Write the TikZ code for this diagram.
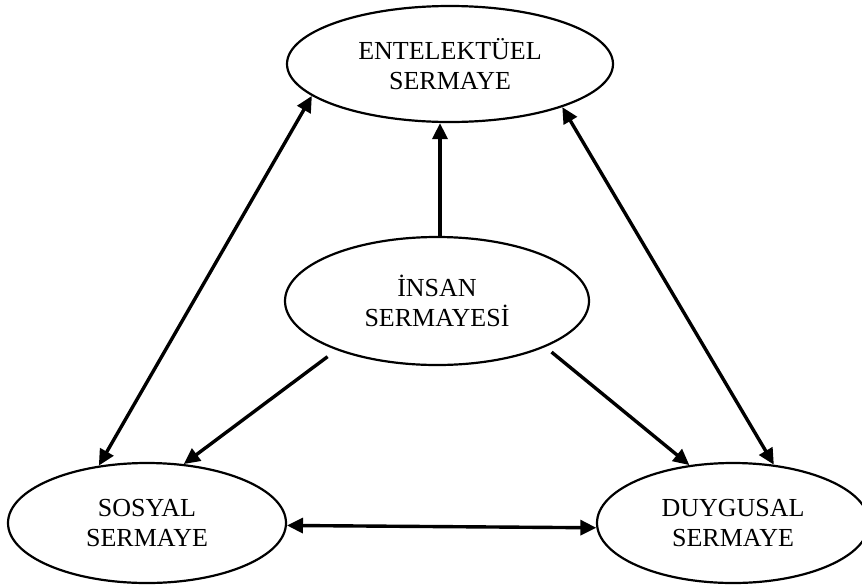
\documentclass[tikz,border=0pt]{standalone}
\usepackage{fontspec}
\setmainfont{Liberation Serif}
\usetikzlibrary{shapes.geometric,arrows.meta}

\tikzset{
  capital/.style={ellipse, draw, line width=2.2pt, inner sep=0pt,
    align=center, font=\fontsize{26}{30.5}\selectfont},
  link/.style={line width=3.4pt, -{Triangle[length=16pt,width=15pt]}},
  twoway/.style={line width=3.4pt, {Triangle[length=16pt,width=15pt]}-{Triangle[length=16pt,width=15pt]}}
}

\begin{document}
\begin{tikzpicture}[x=1pt, y=-1pt]
  \useasboundingbox (0,0) rectangle (862,587);

  % the four kinds of capital
  \node[capital, minimum width=326pt, minimum height=116pt] (ent) at (450,64)
    {ENTELEKTÜEL\\SERMAYE};
  \node[capital, minimum width=304pt, minimum height=128pt] (ins) at (437,301)
    {İNSAN\\SERMAYESİ};
  \node[capital, minimum width=278pt, minimum height=120pt] (sos) at (147,523)
    {SOSYAL\\SERMAYE};
  \node[capital, minimum width=272pt, minimum height=120pt] (duy) at (733,523)
    {DUYGUSAL\\SERMAYE};

  % human capital feeds the other three
  \draw[link] ([xshift=3pt]ins.north) -- ([xshift=3pt]ins.north |- ent.south);
  \draw[link, shorten <=11pt] (ins.206) -- (sos.58);
  \draw[link, shorten <=8pt] (ins.337) -- (duy.127);

  % mutual links between the outer three
  \draw[twoway] (sos.130) -- (ent.193);
  \draw[twoway] (duy.55) -- (ent.339);
  \draw[twoway] (sos.359) -- (duy.182);
\end{tikzpicture}
\end{document}
